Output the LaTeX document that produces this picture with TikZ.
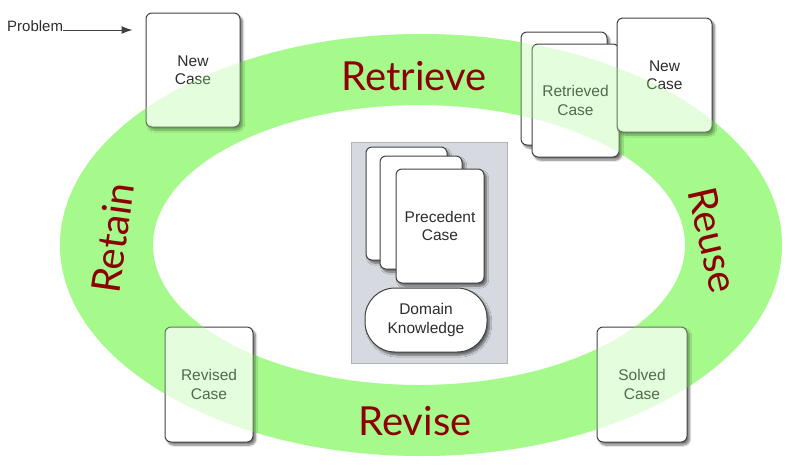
\documentclass[tikz,border=0pt]{standalone}
\usepackage{fontspec}
\setmainfont{Liberation Sans}
\newfontfamily\labelfont{Lato}
\usetikzlibrary{shadows.blur,arrows.meta}
\definecolor{ringgreen}{RGB}{166,250,140}
\definecolor{labelred}{RGB}{140,0,0}
\definecolor{cardtext}{RGB}{45,45,45}
\definecolor{panelgray}{RGB}{214,218,224}
\begin{document}
\begin{tikzpicture}[x=1pt,y=-1pt,
  card/.style={draw=black!75, line width=1pt, rounded corners=6pt, fill=white,
    blur shadow={shadow xshift=2.5pt, shadow yshift=-3pt, shadow blur steps=8, shadow opacity=55},
    text=cardtext, font=\fontsize{15.5}{18.5}\selectfont, align=center, inner sep=0pt},
  phase/.style={text=labelred, font=\labelfont\fontsize{40}{44}\selectfont, inner sep=0pt}
]
\useasboundingbox (0,0) rectangle (802,472);
% ring (base)
\fill[ringgreen, even odd rule] (421,245) ellipse (361pt and 211pt) (419,245) ellipse (266pt and 140pt);

% central panel
\node[draw=black!30, fill=panelgray, minimum width=156pt, minimum height=221pt, inner sep=0pt] (panel) at (429,252.5) {};
\node[card, minimum width=81pt, minimum height=113pt] (prec1) at (406.5,203.5) {};
\node[card, minimum width=82pt, minimum height=113pt] (prec2) at (421,212.5) {};
\node[card, minimum width=88pt, minimum height=114pt] (prec3) at (440,226) {Precedent\\Case};
\node[card, rounded corners=30pt, minimum width=122pt, minimum height=64pt] (domain) at (426,320) {Domain\\Knowledge};

% cards on the ring
\node[card, minimum width=94pt, minimum height=114pt] (new1) at (193,70) {New\\Case};
\node[card, minimum width=86pt, minimum height=113pt] (retr0) at (564,88.5) {};
\node[card, minimum width=87pt, minimum height=113pt] (retr1) at (575.5,100.5) {Retrieved\\Case};
\node[card, minimum width=95pt, minimum height=114pt] (new2) at (664.5,75) {New\\Case};
\node[card, minimum width=88pt, minimum height=115pt] (revised) at (209,384.5) {Revised\\Case};
\node[card, minimum width=90pt, minimum height=115pt] (solved) at (642,384.5) {Solved\\Case};

% translucent ring on top
\fill[ringgreen, fill opacity=0.3, even odd rule] (421,245) ellipse (361pt and 211pt) (419,245) ellipse (266pt and 140pt);

% problem input
\node[anchor=base west, text=cardtext, font=\fontsize{15}{17}\selectfont, inner sep=0pt] (prob) at (7,31) {Problem};
\draw[black!75, line width=1pt, -{Latex[length=11pt,width=8pt]}, shorten >=13pt]
  ([yshift=1pt]prob.base east) -- ([yshift=1pt]prob.base east -| new1.west);

% phase labels
\node[phase, anchor=base] (retrieve) at (414,90) {Retrieve};
\node[phase, anchor=base] (revise) at (415,435) {Revise};
\node[phase, rotate=82] (retain) at (113,238) {Retain};
\node[phase, rotate=-77] (reuse) at (713,240) {Reuse};
\end{tikzpicture}
\end{document}
